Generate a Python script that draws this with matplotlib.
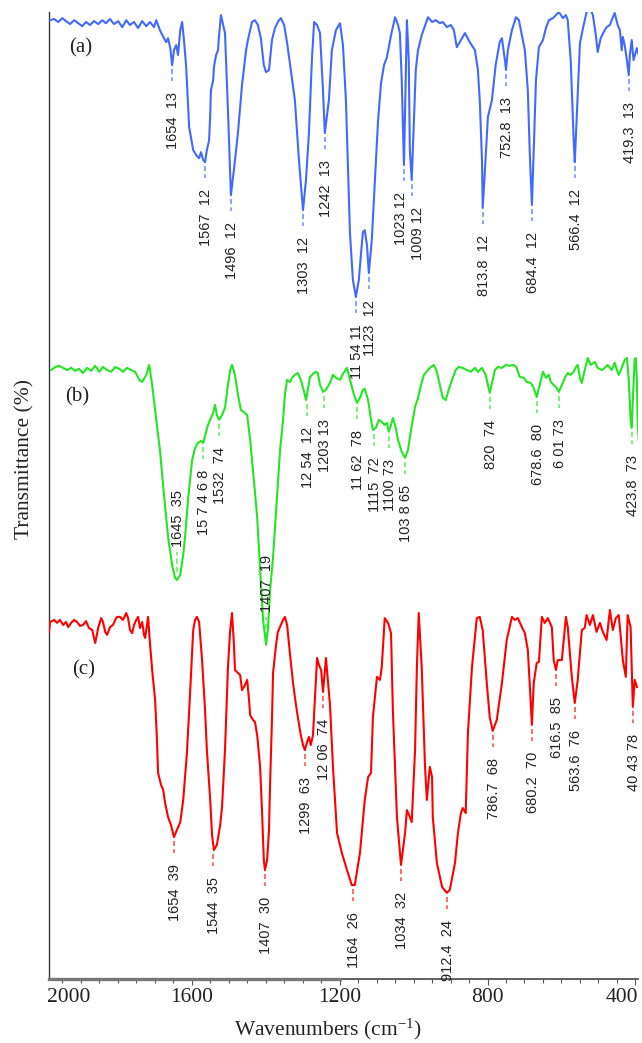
import numpy as np
import matplotlib
matplotlib.use("Agg")
import matplotlib.pyplot as plt
from matplotlib.ticker import FixedLocator, MultipleLocator

plt.rcParams['mathtext.fontset'] = 'custom'
plt.rcParams['mathtext.rm'] = 'Liberation Serif'
plt.rcParams['mathtext.it'] = 'Liberation Serif:italic'

# ---------------- data ----------------
# (a) spectrum: wavenumber (cm-1) and transmittance (%)
wn_a = np.array([1983, 1972, 1961, 1950, 1940, 1929, 1918, 1907, 1896, 1886, 1875, 1864, 1853, 1842,
                 1832, 1821, 1810, 1799, 1788, 1777, 1767, 1756, 1745, 1734, 1723, 1713, 1702, 1696,
                 1686, 1677, 1669, 1664, 1658, 1653, 1648, 1642, 1637, 1631, 1626, 1621, 1615, 1607,
                 1596, 1586, 1580, 1575, 1569, 1564, 1559, 1553, 1550, 1548, 1542, 1540, 1534, 1529,
                 1526, 1521, 1515, 1510, 1502, 1494, 1486, 1475, 1464, 1453, 1448, 1442, 1437, 1429,
                 1421, 1413, 1405, 1399, 1391, 1383, 1375, 1367, 1359, 1350, 1342, 1332, 1321, 1310,
                 1299, 1291, 1283, 1275, 1269, 1261, 1253, 1245, 1240, 1229, 1221, 1210, 1199, 1191,
                 1183, 1172, 1164, 1156, 1148, 1142, 1137, 1132, 1126, 1121, 1113, 1105, 1096, 1088,
                 1080, 1072, 1061, 1050, 1042, 1037, 1032, 1026, 1023, 1018, 1013, 1010, 1005, 999,
                 994, 988, 978, 961, 950, 940, 929, 921, 910, 899, 891, 883, 875, 861, 848, 834, 826,
                 821, 815, 813, 807, 799, 788, 778, 767, 761, 753, 750, 745, 734, 723, 715, 707, 699,
                 691, 686, 680, 675, 669, 661, 650, 642, 634, 623, 615, 607, 596, 588, 583, 575, 567,
                 564, 559, 550, 540, 532, 523, 515, 507, 502, 494, 486, 478, 469, 461, 456, 448, 442,
                 437, 434, 429, 423, 418, 415, 410, 405, 396, 391])
tr_a = np.array([98.3, 98.7, 97.7, 99.0, 98.0, 97.0, 98.3, 97.3, 96.3, 97.7, 96.7, 98.0, 97.0, 98.3,
                 97.3, 98.7, 97.0, 98.0, 96.0, 98.3, 96.7, 97.7, 95.7, 98.0, 96.3, 97.7, 96.0, 98.3,
                 95.0, 92.7, 91.0, 92.3, 89.0, 83.3, 88.3, 90.0, 86.7, 95.0, 97.7, 91.7, 82.7, 62.7,
                 55.0, 53.0, 52.3, 54.3, 51.7, 51.0, 55.0, 58.3, 66.7, 75.0, 78.3, 82.7, 86.7, 88.3,
                 93.3, 100.0, 96.7, 94.0, 68.3, 40.0, 48.3, 60.7, 76.7, 88.3, 91.7, 95.0, 97.7, 98.3,
                 96.7, 92.3, 83.3, 81.0, 81.7, 91.7, 95.7, 97.7, 99.0, 96.7, 90.7, 81.7, 71.7, 51.7,
                 35.0, 45.0, 60.7, 85.0, 97.7, 96.7, 94.0, 75.0, 60.7, 71.7, 88.3, 95.0, 97.3, 90.0,
                 71.7, 27.3, 11.7, 6.0, 11.7, 20.7, 27.7, 28.3, 23.3, 14.0, 25.0, 44.0, 65.0, 77.3,
                 83.3, 86.0, 93.3, 99.3, 96.7, 94.0, 78.3, 50.0, 68.3, 98.3, 85.0, 55.0, 45.0, 65.0,
                 81.7, 88.3, 93.3, 99.3, 97.7, 98.3, 97.3, 97.7, 96.0, 96.7, 95.0, 89.3, 91.0, 94.0,
                 91.0, 88.3, 81.7, 71.7, 51.7, 35.7, 48.3, 66.0, 71.7, 83.3, 91.0, 92.3, 85.0, 81.7,
                 88.3, 95.0, 99.3, 98.3, 93.3, 88.3, 75.0, 55.0, 36.7, 55.0, 78.3, 89.3, 91.7, 95.7,
                 98.3, 99.0, 100.0, 101.0, 99.0, 100.0, 98.3, 85.0, 58.3, 51.0, 65.0, 90.7, 96.7,
                 101.0, 102.3, 100.0, 93.3, 87.7, 92.3, 94.3, 96.0, 96.7, 99.3, 100.7, 96.7, 95.0,
                 88.3, 92.7, 90.0, 85.0, 80.0, 86.7, 91.7, 85.0, 89.0, 86.7])

# (b) spectrum
wn_b = np.array([1980, 1969, 1959, 1948, 1937, 1926, 1915, 1905, 1894, 1883, 1872, 1861, 1850, 1840,
                 1829, 1818, 1807, 1796, 1786, 1775, 1764, 1753, 1742, 1734, 1723, 1715, 1707, 1696,
                 1686, 1675, 1664, 1653, 1645, 1640, 1631, 1623, 1618, 1610, 1599, 1591, 1583, 1575,
                 1569, 1561, 1556, 1548, 1542, 1537, 1532, 1526, 1518, 1510, 1502, 1496, 1491, 1483,
                 1475, 1467, 1459, 1450, 1442, 1432, 1423, 1415, 1407, 1399, 1394, 1388, 1380, 1369,
                 1361, 1353, 1348, 1342, 1334, 1329, 1321, 1313, 1305, 1296, 1291, 1286, 1280, 1272,
                 1264, 1259, 1253, 1245, 1237, 1226, 1218, 1210, 1199, 1191, 1180, 1172, 1161, 1153,
                 1145, 1137, 1132, 1123, 1115, 1110, 1102, 1094, 1086, 1078, 1072, 1067, 1061, 1056,
                 1050, 1042, 1032, 1023, 1015, 1007, 996, 988, 980, 972, 961, 953, 945, 937, 929, 921,
                 913, 905, 896, 886, 878, 867, 856, 845, 834, 826, 815, 805, 799, 794, 788, 780, 772,
                 761, 750, 740, 729, 721, 713, 702, 694, 683, 675, 667, 659, 650, 642, 634, 629, 621,
                 613, 607, 599, 591, 583, 575, 567, 561, 556, 550, 545, 537, 529, 521, 510, 502, 491,
                 483, 475, 464, 456, 450, 445, 437, 429, 423, 418, 413, 410, 407, 402, 399, 396, 394,
                 391])
tr_b = np.array([98.3, 99.3, 99.7, 99.0, 98.3, 99.0, 98.0, 98.7, 97.3, 99.0, 98.0, 99.7, 97.7, 99.3,
                 98.3, 97.7, 99.3, 98.7, 97.7, 99.0, 98.3, 97.7, 95.0, 94.3, 96.7, 100.0, 93.3, 81.7,
                 71.7, 56.7, 42.7, 33.3, 29.0, 28.3, 30.0, 36.7, 42.7, 55.0, 68.3, 72.3, 74.0, 74.7,
                 74.0, 77.7, 80.0, 82.3, 84.0, 86.7, 83.3, 81.7, 83.3, 85.7, 93.3, 98.3, 100.0, 96.7,
                 90.0, 85.0, 84.3, 83.3, 75.0, 61.7, 49.3, 31.7, 15.0, 6.7, 11.7, 25.0, 36.0, 56.7,
                 71.7, 81.7, 90.0, 95.0, 94.3, 95.7, 96.7, 97.3, 95.0, 91.0, 88.3, 91.7, 96.0, 97.0,
                 97.7, 97.3, 93.3, 91.0, 91.7, 94.0, 96.7, 95.7, 95.0, 97.0, 99.0, 95.0, 90.0, 87.3,
                 89.0, 91.7, 92.0, 88.3, 81.7, 78.3, 79.0, 81.7, 81.0, 80.0, 80.7, 77.7, 80.0, 82.3,
                 80.0, 75.0, 71.0, 69.0, 71.7, 78.3, 86.0, 89.0, 93.3, 96.7, 98.3, 99.3, 100.0, 97.7,
                 93.3, 89.0, 88.3, 91.7, 95.0, 98.3, 99.3, 99.0, 98.3, 97.7, 99.0, 97.7, 99.0, 96.7,
                 93.3, 90.7, 94.0, 98.3, 99.3, 99.0, 100.0, 99.7, 100.0, 99.0, 96.0, 95.7, 94.3, 94.0,
                 92.3, 89.3, 93.3, 97.7, 95.7, 96.7, 94.3, 93.3, 92.3, 91.0, 93.3, 95.7, 97.3, 96.7,
                 97.7, 99.3, 100.0, 95.7, 94.0, 98.3, 102.3, 100.0, 101.0, 99.0, 98.3, 99.0, 100.0,
                 98.3, 100.7, 98.3, 96.7, 99.0, 101.7, 102.3, 95.0, 81.7, 79.0, 88.3, 101.7, 102.3,
                 95.0, 81.7, 75.0])

# (c) spectrum
wn_c = np.array([1986, 1983, 1972, 1964, 1956, 1948, 1940, 1934, 1926, 1918, 1910, 1902, 1894, 1886,
                 1878, 1869, 1861, 1853, 1845, 1840, 1834, 1829, 1821, 1813, 1807, 1802, 1794, 1786,
                 1777, 1772, 1767, 1761, 1756, 1750, 1745, 1740, 1734, 1729, 1726, 1721, 1718, 1713,
                 1707, 1699, 1694, 1691, 1683, 1677, 1672, 1664, 1656, 1648, 1640, 1631, 1623, 1613,
                 1604, 1596, 1591, 1586, 1580, 1572, 1564, 1559, 1550, 1545, 1540, 1532, 1523, 1518,
                 1510, 1502, 1496, 1491, 1486, 1483, 1475, 1469, 1464, 1456, 1450, 1445, 1442, 1434,
                 1429, 1423, 1415, 1410, 1405, 1402, 1396, 1391, 1388, 1383, 1380, 1372, 1367, 1359,
                 1353, 1348, 1342, 1334, 1326, 1318, 1313, 1305, 1299, 1294, 1288, 1283, 1278, 1272,
                 1267, 1261, 1256, 1250, 1245, 1242, 1237, 1232, 1226, 1218, 1207, 1194, 1180, 1167,
                 1159, 1145, 1132, 1123, 1115, 1110, 1099, 1091, 1086, 1078, 1069, 1061, 1056, 1045,
                 1034, 1023, 1018, 1010, 1005, 996, 991, 986, 978, 969, 964, 961, 956, 950, 948, 937,
                 923, 910, 902, 888, 880, 872, 867, 859, 853, 842, 829, 821, 813, 802, 794, 786, 775,
                 761, 748, 734, 726, 718, 707, 699, 691, 686, 680, 675, 667, 661, 653, 645, 637, 626,
                 621, 615, 610, 599, 588, 583, 572, 564, 556, 545, 537, 532, 523, 515, 505, 496, 488,
                 478, 469, 461, 453, 445, 434, 426, 421, 413, 407, 402, 396])
tr_c = np.array([93.7, 97.0, 97.7, 96.7, 97.7, 96.0, 97.0, 95.3, 96.7, 97.7, 97.0, 95.7, 96.0, 97.3,
                 95.0, 94.3, 90.0, 95.0, 98.3, 97.0, 93.7, 92.7, 95.3, 96.0, 97.7, 98.7, 98.7, 97.7,
                 100.0, 98.3, 94.3, 93.3, 96.0, 97.7, 98.7, 95.0, 97.0, 92.7, 91.7, 96.0, 98.7, 90.0,
                 81.0, 71.0, 57.7, 46.7, 42.7, 41.0, 36.7, 32.0, 29.3, 25.3, 27.7, 30.3, 37.7, 53.3,
                 74.3, 94.3, 97.7, 98.7, 97.0, 84.3, 67.7, 54.3, 37.7, 26.0, 21.0, 22.7, 29.3, 35.3,
                 54.3, 82.0, 94.3, 100.0, 90.0, 81.0, 80.0, 79.3, 74.3, 76.0, 77.7, 71.0, 66.0, 64.3,
                 63.7, 59.3, 48.7, 34.3, 17.7, 14.3, 17.7, 27.7, 43.3, 64.3, 80.0, 89.3, 93.7, 96.0,
                 97.7, 98.7, 96.0, 86.0, 76.7, 69.3, 65.3, 59.3, 56.0, 54.3, 57.0, 58.7, 56.0, 59.3,
                 71.0, 85.0, 82.7, 81.0, 73.7, 77.7, 85.0, 77.7, 69.3, 48.7, 26.7, 20.0, 14.3, 9.3,
                 9.3, 20.0, 37.7, 45.3, 46.7, 65.3, 78.7, 77.7, 82.0, 98.3, 96.7, 93.3, 67.7, 32.0,
                 16.0, 26.7, 34.3, 32.0, 30.3, 54.3, 82.0, 100.0, 82.0, 48.7, 37.7, 42.0, 48.7, 45.3,
                 32.0, 16.7, 8.7, 6.7, 7.7, 16.7, 26.7, 33.3, 35.0, 33.3, 60.0, 82.0, 98.3, 98.7, 94.3,
                 76.7, 65.3, 60.7, 64.3, 76.7, 91.0, 98.7, 97.7, 98.3, 95.3, 93.3, 87.7, 76.7, 62.7,
                 76.7, 83.3, 83.7, 98.7, 96.7, 98.3, 95.3, 84.3, 81.0, 84.3, 84.3, 98.7, 95.3, 78.7,
                 70.0, 77.7, 94.3, 95.0, 99.3, 96.0, 99.3, 93.7, 96.7, 93.7, 91.0, 101.0, 94.3, 98.3,
                 99.3, 84.3, 78.7, 99.3, 95.3, 68.7, 77.7, 75.3])

# peak labels: text and wavenumber where the marker sits
labels_a = ["1654  13", "1567  12", "1496  12", "1303  12", "1242  13", "11 54 11", "1123  12",
            "1023 12", "1009 12", "813.8  12", "752.8  13", "684.4  12", "566.4  12", "419.3  13"]
pos_a = [1653, 1564, 1494, 1299, 1240, 1156, 1121, 1026, 1005, 813, 750, 680, 564, 418]

labels_b = ["1645  35", "15 7 4 6 8", "1532  74", "1407  19", "12 54  12", "1203 13", "11 62  78",
            "1115  72", "1100 73", "103 8 65", "820  74", "678.6  80", "6 01 73", "423.8  73"]
pos_b = [1640, 1569, 1526, 1399, 1288, 1242, 1153, 1108, 1067, 1023, 794, 667, 607, 410]
up_b = [True, False, False, True, False, False, False, False, False, False, False, False, False, False]

labels_c = ["1654  39", "1544  35", "1407  30", "1299  63", "12 06  74", "1164  26", "1034  32",
            "912.4  24", "786.7  68", "680.2  70", "616.5  85", "563.6  76", "40 43 78"]
pos_c = [1648, 1542, 1402, 1294, 1245, 1163, 1034, 910, 786, 680, 615, 564, 407]

panel_names = ["(a)", "(b)", "(c)"]

# ---------------- plot ----------------
fig = plt.figure(figsize=(6.42, 10.43), dpi=100)
ax = fig.add_axes([49/642, 64/1043, 589/642, 967/1043])

offsets = [221.3, 104.7, 22.0]   # vertical stacking of the spectra
colors = ['#4169ff', '#22e622', '#ff0000']
tick_colors = ['#7393ff', '#66ec66', '#ff5050']

# small sideways nudges (pixels) where two labels sit close together
nudge = {"1023 12": -4, "1009 12": 5}

def local_min(wn, tr, p, w=5):
    m = (wn >= p - w) & (wn <= p + w)
    if m.any():
        return tr[m].min()
    return np.interp(p, wn[::-1], tr[::-1])

spectra = [(wn_a, tr_a, labels_a, pos_a, [False]*len(pos_a)),
           (wn_b, tr_b, labels_b, pos_b, up_b),
           (wn_c, tr_c, labels_c, pos_c, [False]*len(pos_c))]

for k, (wn, tr, labs, pos, ups) in enumerate(spectra):
    off = offsets[k]
    ax.plot(wn, tr + off, color=colors[k], lw=1.5, zorder=3)
    for lab, p, up in zip(labs, pos, ups):
        y = local_min(wn, tr, p) + off
        dx = 1 + nudge.get(lab, 0)
        if up:
            ax.plot([p, p], [y + 8/3, y + 28/3], color=tick_colors[k], lw=1.2,
                    ls=(0, (3, 2)), zorder=2)
            ax.annotate(lab, xy=(p, y), xytext=(dx, 33), textcoords='offset pixels',
                        rotation=90, ha='center', va='bottom', fontsize=10.5,
                        family='Liberation Sans', color='#222222', zorder=4)
        else:
            ax.plot([p, p], [y - 4/3, y - 16/3], color=tick_colors[k], lw=1.2,
                    ls=(0, (3, 2)), zorder=2)
            ax.annotate(lab, xy=(p, y), xytext=(dx, -27), textcoords='offset pixels',
                        rotation=90, ha='center', va='top', fontsize=10.5,
                        family='Liberation Sans', color='#222222', zorder=4)

# panel letters
for name, xf, yf in zip(panel_names, [0.053, 0.048, 0.058], [0.963, 0.602, 0.320]):
    ax.text(xf, yf, name, transform=ax.transAxes, ha='center', va='center',
            fontsize=15, family='Liberation Serif', color='#222222')

ax.set_xlim(1986, 393)
ax.set_ylim(0, 967/3)
ax.set_yticks([])
ax.spines['top'].set_visible(False)
ax.spines['right'].set_visible(False)
ax.spines['left'].set_color('#333333')
ax.spines['bottom'].set_color('#444444')
ax.spines['left'].set_linewidth(1.0)
ax.spines['bottom'].set_linewidth(1.2)
# thicker part of the base line as in the original
ax.plot([1986, 1200], [0, 0], color='#777777', lw=2.4, clip_on=False, zorder=5,
        transform=ax.get_xaxis_transform())

ax.xaxis.set_major_locator(FixedLocator([1600, 1200, 800, 400]))
ax.set_xticklabels(['1600', '1200', '800', ''])
ax.xaxis.set_minor_locator(MultipleLocator(50))
ax.tick_params(axis='x', which='major', direction='out', length=4, width=0.8,
               color='#555555', pad=2.5, labelsize=15.5)
ax.tick_params(axis='x', which='minor', direction='out', length=3, width=0.8,
               color='#555555')
for t in ax.get_xticklabels():
    t.set_family('Liberation Serif')
    t.set_color('#222222')
# end labels sit inside the axis ends
ax.annotate('2000', xy=(0, 0), xycoords='axes fraction', xytext=(-2, -9),
            textcoords='offset pixels', ha='left', va='top', fontsize=15.5,
            family='Liberation Serif', color='#222222')
ax.annotate('400', xy=(1, 0), xycoords='axes fraction', xytext=(0, -9),
            textcoords='offset pixels', ha='right', va='top', fontsize=15.5,
            family='Liberation Serif', color='#222222')

fig.text(328/642, 14/1043, 'Wavenumbers (cm$^{-1}$)', ha='center', va='center',
         fontsize=15.5, family='Liberation Serif', color='#222222')
fig.text(25/642, 1 - 459/1043, 'Transmittance (%)', rotation=90, ha='center', va='center',
         fontsize=15.5, family='Liberation Serif', color='#222222')

fig.savefig('out.png', dpi=100)
